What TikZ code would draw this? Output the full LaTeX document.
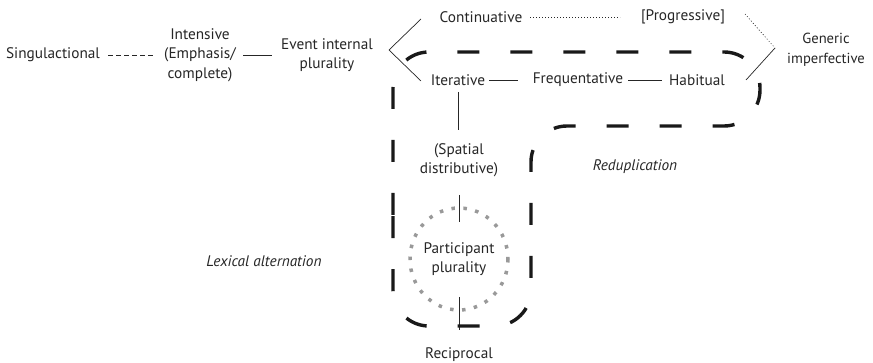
\documentclass[tikz,border=0pt]{standalone}
\usepackage{fontspec}
\setmainfont{PT Sans}
\begin{document}
\begin{tikzpicture}[x=1pt,y=-1pt,
  lbl/.style={font=\fontsize{15.3}{19.5}\selectfont, align=center, inner sep=1pt, text=black!85},
  itl/.style={lbl, font=\fontsize{15.3}{19.5}\selectfont\itshape},
  thin/.style={line width=0.7pt, black!85},
  fine/.style={line width=0.6pt, black!85, dash pattern=on 1pt off 2pt},
  bigdash/.style={line width=3.4pt, black!90, dash pattern=on 22pt off 31pt, rounded corners=36pt},
  graydots/.style={line width=3.5pt, black!40, dash pattern=on 3.5pt off 8.5pt}
]
\useasboundingbox (0,0) rectangle (873,363);

% nodes
\node[lbl] (sing) at (53,55) {Singulactional};
\node[lbl] (inten) at (200,55) {Intensive\\(Emphasis/\\complete)};
\node[lbl] (event) at (327,55) {Event internal\\plurality};
\node[lbl] (cont) at (481,17) {Continuative};
\node[lbl] (prog) at (683,17) {[Progressive]};
\node[lbl, font=\fontsize{14.6}{19.5}\selectfont] (gen) at (826,50) {Generic\\imperfective};
\node[lbl] (iter) at (458,80) {Iterative};
\node[lbl] (freq) at (578,80) {Frequentative};
\node[lbl] (hab) at (697,80) {Habitual};
\node[lbl] (spat) at (459,160) {(Spatial\\distributive)};
\node[lbl] (part) at (459,259) {Participant\\plurality};
\node[lbl] (recip) at (459,355) {Reciprocal};
\node[itl] (lex) at (264,261) {Lexical alternation};
\node[itl] (redup) at (635,167) {Reduplication};

% brackets
\coordinate (lapex) at (389,50);
\coordinate (ltop) at (421,19);
\coordinate (lbot) at (421,81);
\coordinate (rapex) at (775,48);
\coordinate (rtop) at (745,14);
\coordinate (rbot) at (746,80);
\draw[thin] (ltop) -- (lapex) -- (lbot);
\draw[fine] (rtop) -- (rapex);
\draw[thin] (rapex) -- (rbot);

% connectors
\draw[thin, dash pattern=on 4.5pt off 3.5pt] (108,55) -- (155,55);
\draw[thin] (243,55) -- (272,55);
\draw[fine] (530,17) -- (620,17);
\draw[thin] (489,80) -- (518,80);
\draw[thin] (628,80) -- (662,80);
\draw[thin] (458,92) -- (458,130);
\draw[thin] (459,195) -- (459,222);
\draw[thin] (459,297) -- (459,330);

% dotted circle round participant plurality
\draw[graydots] (part) circle[x radius=49pt, y radius=-51pt];

% dashed region
\draw[bigdash] (393,215) -- (393,52) -- (760,52) -- (760,126) -- (531,126)
  -- (531,326) -- (393,326) -- (393,215);
\end{tikzpicture}
\end{document}
